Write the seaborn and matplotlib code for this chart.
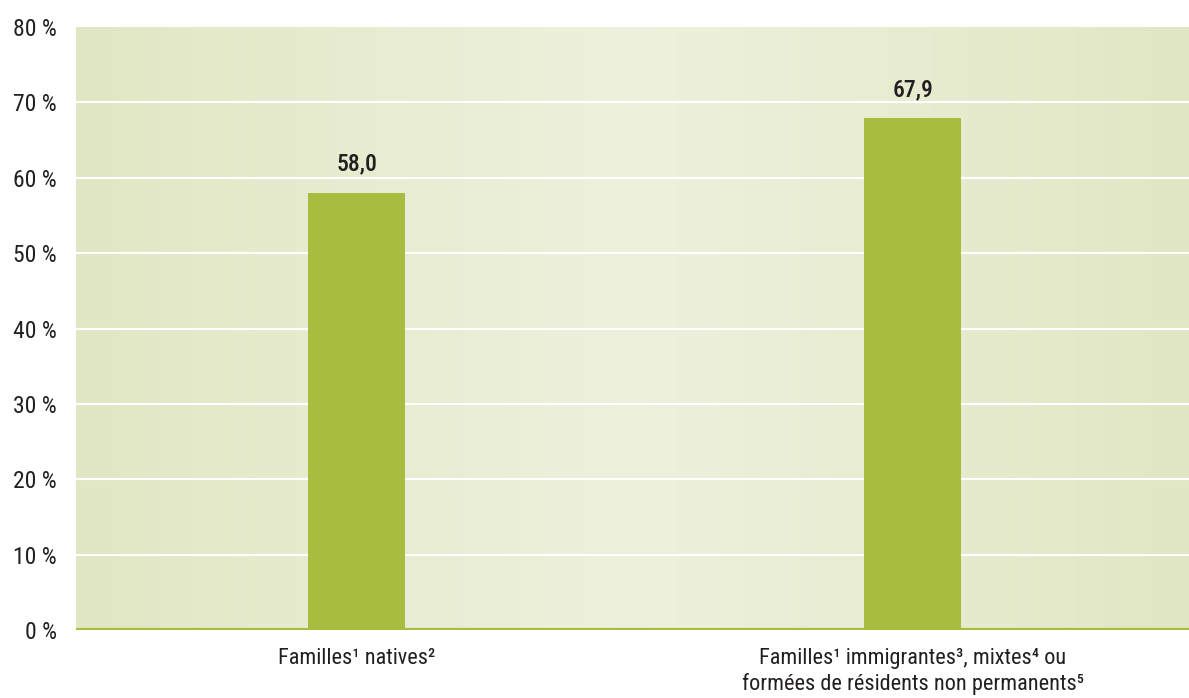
import numpy as np
import pandas as pd
import matplotlib
matplotlib.use('Agg')
import matplotlib.pyplot as plt
import seaborn as sns
from matplotlib import font_manager
from matplotlib.colors import LinearSegmentedColormap

# data
categories = ['Familles¹ natives²',
              'Familles¹ immigrantes³, mixtes⁴ ou\nformées de résidents non permanents⁵']
values = [58.0, 67.9]
value_labels = ['58,0', '67,9']
yticks = [0, 10, 20, 30, 40, 50, 60, 70, 80]
ytick_labels = [f'{t} %' for t in yticks]

bar_color = '#A8BD3F'
edge_bg = '#E1E7C4'
mid_bg = '#EEF1DD'
text_color = '#231F20'

sns.set_theme(style='white')
installed = {f.name for f in font_manager.fontManager.ttflist}
fams = [f for f in ['Roboto Condensed', 'Liberation Sans Narrow', 'Roboto']
        if f in installed]
plt.rcParams['font.family'] = fams + ['DejaVu Sans']

df = pd.DataFrame({'cat': categories, 'val': values})

fig = plt.figure(figsize=(11.89, 6.98), dpi=100)
ax = fig.add_axes([76 / 1189, 68 / 698, 1113 / 1189, 603 / 698])

# gradient background
cmap = LinearSegmentedColormap.from_list('bg', [edge_bg, mid_bg, edge_bg])
grad = np.linspace(0, 1, 256).reshape(1, -1)
ax.imshow(grad, cmap=cmap, aspect='auto', extent=[-0.505, 1.497, 0, 80],
          zorder=0)

for y in yticks[1:-1]:
    ax.axhline(y, color='white', lw=1.5, zorder=1)

sns.barplot(data=df, x='cat', y='val', color=bar_color, width=0.174,
            saturation=1, linewidth=0, ax=ax, zorder=2)

ax.axhline(0, color=bar_color, lw=3, zorder=3)

for i, (v, lab) in enumerate(zip(values, value_labels)):
    ax.text(i, v + 3.8, lab, ha='center', va='center', fontsize=17,
            fontweight='medium', color=text_color)

ax.set_xlim(-0.505, 1.497)
ax.set_ylim(0, 80)
ax.set_yticks(yticks)
ax.set_yticklabels(ytick_labels, fontsize=17, color=text_color)
ax.set_xticks(range(len(categories)))
ax.set_xticklabels(categories, fontsize=16, color=text_color, linespacing=1.25)
ax.tick_params(axis='y', length=0, pad=14)
ax.tick_params(axis='x', length=0, pad=13)
ax.set_xlabel('')
ax.set_ylabel('')
for s in ax.spines.values():
    s.set_visible(False)

fig.savefig('out.png', dpi=100)
